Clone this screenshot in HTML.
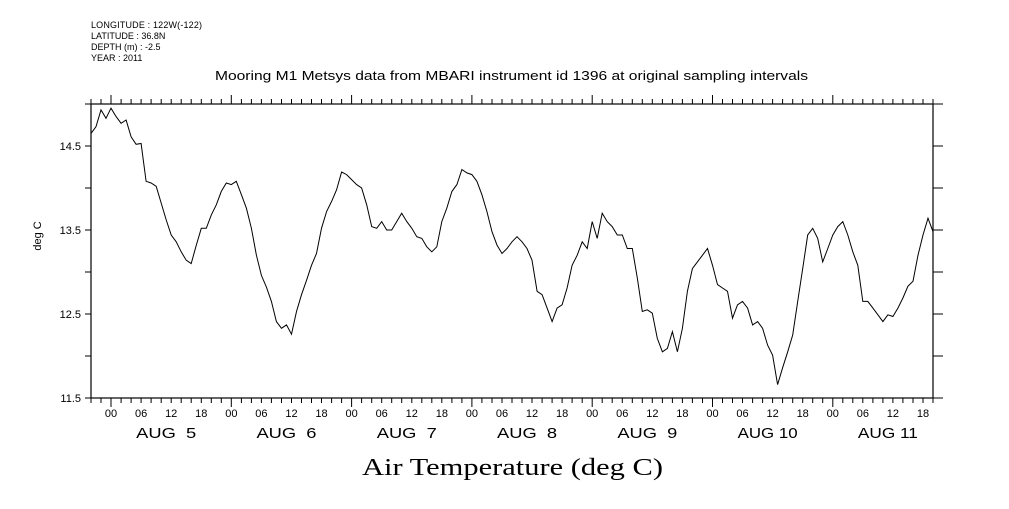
<!DOCTYPE html>
<html><head><meta charset="utf-8"><style>
body{margin:0;background:#fff;}
svg text{font-family:"Liberation Sans",sans-serif;fill:#000;}
</style></head><body>
<svg id="chart" width="1009" height="504" viewBox="0 0 1009 504" xmlns="http://www.w3.org/2000/svg">
<g font-size="9">
<text x="91" y="28" textLength="111">LONGITUDE : 122W(-122)</text>
<text x="91" y="39">LATITUDE : 36.8N</text>
<text x="91" y="50">DEPTH (m) : -2.5</text>
<text x="91" y="61">YEAR : 2011</text>
</g>
<text x="215" y="80" textLength="593" lengthAdjust="spacingAndGlyphs" font-size="13">Mooring M1 Metsys data from MBARI instrument id 1396 at original sampling intervals</text>
<text x="362" y="475" textLength="301" lengthAdjust="spacingAndGlyphs" font-size="24" style="font-family:'Liberation Serif',serif">Air Temperature (deg C)</text>
<text transform="translate(41,236) rotate(-90)" text-anchor="middle" font-size="11">deg C</text>
<g id="axes"></g>
<path id="line" fill="none" stroke="#000" stroke-width="1"/>
</svg>
<script>
const hours=[];for(let h=-4;h<=164;h++)hours.push(h);
const temps=[14.65,14.73,14.93,14.83,14.95,14.85,14.77,14.81,14.61,14.52,14.53,14.08,14.06,14.02,13.82,13.62,13.44,13.36,13.24,13.14,13.10,13.32,13.52,13.52,13.68,13.80,13.96,14.06,14.04,14.08,13.92,13.76,13.52,13.20,12.96,12.82,12.65,12.41,12.33,12.37,12.26,12.53,12.73,12.90,13.08,13.22,13.52,13.72,13.84,13.98,14.19,14.16,14.10,14.04,14.00,13.80,13.54,13.52,13.60,13.50,13.50,13.60,13.70,13.60,13.52,13.42,13.40,13.30,13.24,13.30,13.60,13.76,13.96,14.04,14.22,14.18,14.16,14.08,13.92,13.72,13.48,13.32,13.22,13.28,13.36,13.42,13.36,13.28,13.14,12.77,12.73,12.57,12.41,12.57,12.61,12.81,13.08,13.20,13.36,13.28,13.60,13.40,13.70,13.60,13.54,13.44,13.44,13.28,13.28,12.93,12.53,12.55,12.51,12.21,12.05,12.09,12.29,12.05,12.33,12.77,13.04,13.12,13.20,13.28,13.08,12.85,12.81,12.77,12.45,12.61,12.65,12.57,12.37,12.41,12.33,12.13,12.01,11.66,11.86,12.05,12.25,12.65,13.04,13.44,13.52,13.40,13.12,13.28,13.44,13.54,13.60,13.44,13.24,13.08,12.65,12.65,12.57,12.49,12.41,12.49,12.47,12.57,12.69,12.83,12.89,13.20,13.44,13.64,13.48];
const yTicks=[14.5,13.5,12.5,11.5];
const dayLabels=["AUG  5","AUG  6","AUG  7","AUG  8","AUG  9","AUG 10","AUG 11"];
const hourLabels=["00","06","12","18"];
const L=91,R=933,T=104,B=398,H0=-4,H1=164,V0=11.5,V1=15.0;
const X=h=>L+(h-H0)/(H1-H0)*(R-L);
const Y=v=>B-(v-V0)/(V1-V0)*(B-T);
const NS="http://www.w3.org/2000/svg";
const ax=document.getElementById('axes');
function mk(t,a,txt){const e=document.createElementNS(NS,t);for(const k in a)e.setAttribute(k,a[k]);if(txt!==undefined)e.textContent=txt;ax.appendChild(e);return e;}
const fr=mk('rect',{x:L,y:T,width:R-L,height:B-T,fill:'none',stroke:'#000','stroke-width':1.2});


let d='';
for(let h=-4;h<=164;h+=2){const x=X(h).toFixed(1);const big=((h%24)+24)%24===0;d+=`M${x} ${T}V${T-(big?9:5)}M${x} ${B}V${B+(big?9:5)}`;}
for(let v=11.5;v<=15.01;v+=0.5){const y=Y(v).toFixed(1);d+=`M${L} ${y}H${L-6}M${R} ${y}H${R+10}`;}
const tk=mk('path',{d:d,stroke:'#000','stroke-width':1,fill:'none'});


yTicks.forEach(v=>{const t=mk('text',{x:81,y:Y(v)+4,'text-anchor':'end','font-size':11},v.toFixed(1));

});
for(let day=0;day<7;day++){
 hourLabels.forEach((lab,i)=>{const h=day*24+i*6;if(h>H1)return;
  const t=mk('text',{x:X(h),y:417,'text-anchor':'middle','font-size':11},lab);
  
  });
 const t=mk('text',{x:X(day*24+12)-5,y:438,'text-anchor':'middle','font-size':15,textLength:60,lengthAdjust:'spacingAndGlyphs'},dayLabels[day]);
 t.style.whiteSpace='pre';
 
 
}
document.getElementById('line').setAttribute('d',hours.map((h,i)=>(i?'L':'M')+X(h).toFixed(1)+' '+Y(temps[i]).toFixed(1)).join(''));
</script>
</body></html>
